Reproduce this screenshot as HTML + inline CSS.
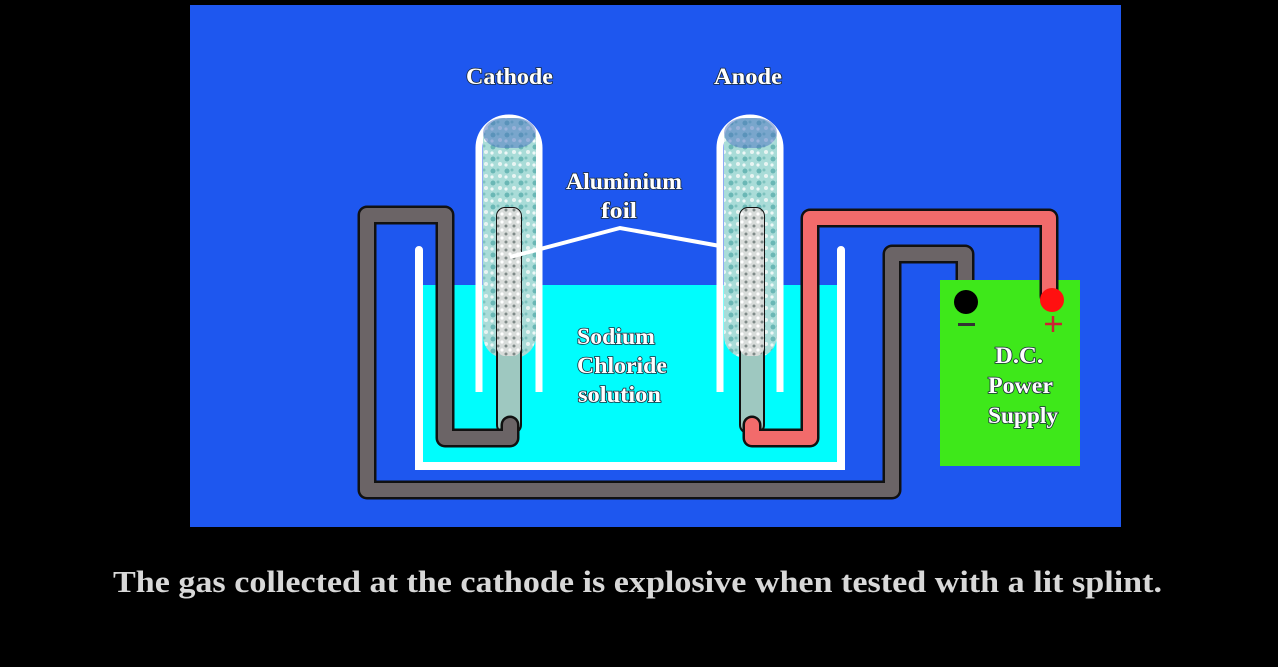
<!DOCTYPE html>
<html><head><style>
body{margin:0;background:#000;}
svg text{font-family:"Liberation Serif",serif;}
</style></head><body>
<svg width="1278" height="662" viewBox="0 0 1278 662" xmlns="http://www.w3.org/2000/svg">
<defs>
<pattern id="fz" width="14" height="12" patternUnits="userSpaceOnUse">
<rect width="14" height="12" fill="#a9dcd8"/>
<circle cx="3" cy="3" r="2.5" fill="#3f9e9e" opacity=".6"/>
<circle cx="10" cy="8" r="2" fill="#e8f4f2"/>
<circle cx="8" cy="2" r="1.5" fill="#5fb0ae" opacity=".6"/>
<circle cx="2" cy="9" r="1.6" fill="#ffffff" opacity=".8"/>
</pattern>
<pattern id="fl" width="8" height="8" patternUnits="userSpaceOnUse">
<rect width="8" height="8" fill="#d8dcda"/>
<circle cx="2" cy="2" r="1.5" fill="#7f8a88"/>
<circle cx="6" cy="6" r="1.6" fill="#fff"/>
</pattern>
</defs>
<rect x="190" y="5" width="931" height="522" fill="#1e57ef"/>
<rect x="423" y="285" width="418" height="181" fill="#00fdfd"/>
<path d="M419 250 V466 H841 V250" fill="none" stroke="#fff" stroke-width="8" stroke-linecap="round"/>
<g>
<path d="M479 392 V148 A30 30 0 0 1 539 148 V392" fill="none" stroke="#fff" stroke-width="7"/>
<rect x="483" y="118" width="53" height="240" rx="22" fill="url(#fz)"/>
<rect x="483" y="118" width="53" height="30" rx="20" fill="#4a6fc0" opacity=".5"/>
<path d="M720 392 V148 A30 30 0 0 1 780 148 V392" fill="none" stroke="#fff" stroke-width="7"/>
<rect x="724" y="118" width="53" height="240" rx="22" fill="url(#fz)"/>
<rect x="724" y="118" width="53" height="30" rx="20" fill="#4a6fc0" opacity=".5"/>
</g>
<rect x="497" y="208" width="24" height="225" rx="8" fill="#9ec8c0" stroke="#111" stroke-width="2"/>
<rect x="497" y="208" width="24" height="148" rx="8" fill="url(#fl)"/>
<rect x="740" y="208" width="24" height="225" rx="8" fill="#9ec8c0" stroke="#111" stroke-width="2"/>
<rect x="740" y="208" width="24" height="148" rx="8" fill="url(#fl)"/>
<path d="M510 257 L620 228 L720 246" fill="none" stroke="#fff" stroke-width="4"/>
<path d="M510 425 V438 H445 V215 H367 V490 H892 V254 H965 V298" fill="none" stroke="#111" stroke-width="19" stroke-linejoin="round" stroke-linecap="round"/>
<path d="M510 425 V438 H445 V215 H367 V490 H892 V254 H965 V298" fill="none" stroke="#6b6466" stroke-width="14" stroke-linejoin="round" stroke-linecap="round"/>
<rect x="940" y="280" width="140" height="186" fill="#3ee81a"/>
<path d="M752 425 V438 H810 V218 H1049 V296" fill="none" stroke="#111" stroke-width="19" stroke-linejoin="round" stroke-linecap="round"/>
<path d="M752 425 V438 H810 V218 H1049 V296" fill="none" stroke="#f26b6b" stroke-width="14" stroke-linejoin="round" stroke-linecap="round"/>
<circle cx="966" cy="302" r="12" fill="#000"/>
<circle cx="1052" cy="300" r="12" fill="#ff1010"/>
<rect x="958" y="323" width="17" height="3" fill="#333"/>
<path d="M1045 324 H1062 M1053 316 V332" stroke="#c23" stroke-width="2.5"/>
<g font-size="23" font-weight="bold" fill="#fff" stroke="#1a2a3a" stroke-width="1.6" paint-order="stroke" lengthAdjust="spacingAndGlyphs">
<text x="466" y="84" textLength="87" lengthAdjust="spacingAndGlyphs">Cathode</text>
<text x="714" y="84" textLength="68" lengthAdjust="spacingAndGlyphs">Anode</text>
<text x="566" y="189" textLength="116" lengthAdjust="spacingAndGlyphs">Aluminium</text>
<text x="601" y="218" textLength="36" lengthAdjust="spacingAndGlyphs">foil</text>
<text x="577" y="344" textLength="78" lengthAdjust="spacingAndGlyphs">Sodium</text>
<text x="577" y="373" textLength="90" lengthAdjust="spacingAndGlyphs">Chloride</text>
<text x="578" y="402" textLength="83" lengthAdjust="spacingAndGlyphs">solution</text>
<text x="995" y="363" textLength="48" lengthAdjust="spacingAndGlyphs">D.C.</text>
<text x="988" y="393" textLength="65" lengthAdjust="spacingAndGlyphs">Power</text>
<text x="988" y="423" textLength="70" lengthAdjust="spacingAndGlyphs">Supply</text>
</g>
<text x="113" y="592" font-size="31" font-weight="bold" fill="#d8d8d8" textLength="1049" lengthAdjust="spacingAndGlyphs">The gas collected at the cathode is explosive when tested with a lit splint.</text>
</svg>
</body></html>
